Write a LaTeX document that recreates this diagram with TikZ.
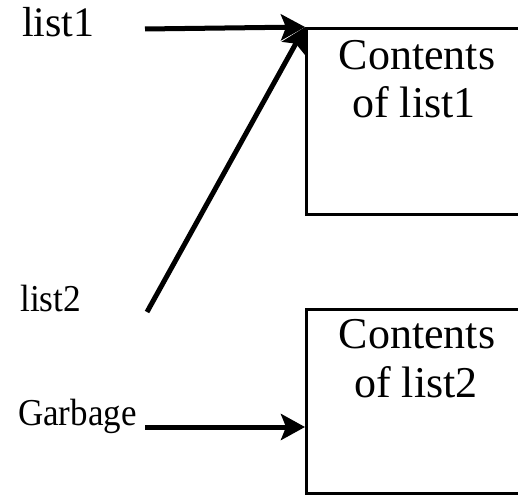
\documentclass[tikz,border=0pt]{standalone}
\usepackage{fontspec}
\setmainfont{Liberation Serif}
\usetikzlibrary{arrows.meta}
\begin{document}
\begin{tikzpicture}[x=1pt,y=-1pt,
  boxline/.style={draw=black, line width=3pt, minimum width=220pt, inner sep=0pt, anchor=north west},
  boxtext/.style={anchor=base, inner sep=0pt, font=\fontsize{44}{48}\selectfont},
  varname/.style={anchor=base west, inner sep=0pt},
  ptr/.style={line width=5pt, -{Stealth[length=24pt,width=26pt,inset=5pt]}}]
  \useasboundingbox (0,0) rectangle (518,494);
  \clip (0,0) rectangle (518,494);

  % the two list objects (right side runs off the page)
  \node[boxline, minimum height=186pt] (b1) at (305,27) {};
  \node[boxline, minimum height=184pt] (b2) at (305,308) {};
  \node[boxtext] (t1a) at (417,70) {Contents};
  \node[boxtext] (t1b) at (414,118) {of list1};
  \node[boxtext] (t2a) at (417,348) {Contents};
  \node[boxtext] (t2b) at (416,397) {of list2};

  % variable names
  \node[varname, font=\fontsize{42}{44}\selectfont] (l1) at (22,37) {list1};
  \node[varname, font=\fontsize{38}{40}\selectfont, xscale=0.93] (l2) at (20,311) {list2};
  \node[varname, font=\fontsize{38}{40}\selectfont, xscale=0.92] (g) at (18,425) {Garbage};

  % tails of the reference arrows
  \coordinate (s1) at (145,29);
  \coordinate (s2) at (147,312);
  \coordinate (s3) at (145,427);
  \coordinate (e3) at (b2.west |- s3);

  \draw[ptr] (s1) -- (b1.north west);
  \draw[ptr] (s2) -- (b1.north west);
  \draw[ptr] (s3) -- (e3);
\end{tikzpicture}
\end{document}
